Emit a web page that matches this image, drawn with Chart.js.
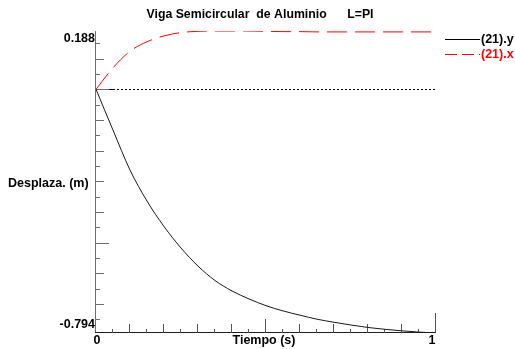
<!DOCTYPE html>
<html>
<head>
<meta charset="utf-8">
<script src="https://cdn.jsdelivr.net/npm/chart.js@4/dist/chart.umd.min.js"></script>
<style>
  html, body { margin: 0; padding: 0; background: #fff; }
  canvas { display: block; }
</style>
</head>
<body>
<canvas id="chartViga" width="515" height="349"></canvas>
<script>
// tiempo (s)
var tiempo = [0, 0.05, 0.1, 0.15, 0.2, 0.25, 0.3, 0.35, 0.4, 0.45, 0.5,
              0.55, 0.6, 0.65, 0.7, 0.75, 0.8, 0.85, 0.9, 0.95, 1];
// desplazamiento vertical del nodo 21 (m)
var desplazaY = [0, -0.133, -0.263, -0.364, -0.447, -0.517, -0.576, -0.623, -0.657, -0.683, -0.705,
                 -0.722, -0.736, -0.749, -0.759, -0.768, -0.776, -0.782, -0.787, -0.791, -0.794];
// desplazamiento horizontal del nodo 21 (m)
var desplazaX = [0, 0.070, 0.124, 0.155, 0.174, 0.185, 0.189, 0.190, 0.190, 0.190, 0.189,
                 0.188, 0.188, 0.187, 0.187, 0.187, 0.187, 0.187, 0.187, 0.187, 0.187];

var yLabels = ['0.188', '-0.794'];
var xLabels = ['0', '1'];
var titulo = 'Viga Semicircular  de Aluminio      L=PI';
var FUENTE = 'bold 12.5px "Liberation Sans", Arial, sans-serif';

function puntos(valores) {
    return tiempo.map(function(t, i) { return { x: t, y: valores[i] }; });
}

// ejes al estilo del programa original: marcas hacia dentro, textos en los extremos
var ejes = {
    id: 'ejes',
    beforeDatasetsDraw: function(chart) {
        var ctx = chart.ctx, xs = chart.scales.x, ys = chart.scales.y;
        var a = chart.chartArea;
        var x0 = xs.getPixelForValue(0), y0 = ys.getPixelForValue(0);
        ctx.save();

        // linea de cero punteada
        ctx.strokeStyle = '#000';
        ctx.lineWidth = 1;
        ctx.setLineDash([2, 2]);
        ctx.beginPath();
        ctx.moveTo(x0 + 17, Math.round(y0) + 0.5);
        ctx.lineTo(a.right, Math.round(y0) + 0.5);
        ctx.stroke();
        ctx.setLineDash([]);
        ctx.beginPath();
        ctx.moveTo(x0, Math.round(y0) + 0.5);
        ctx.lineTo(x0 + 17, Math.round(y0) + 0.5);
        ctx.stroke();

        // eje vertical
        ctx.strokeStyle = '#6e6e6e';
        ctx.beginPath();
        ctx.moveTo(a.left - 0.5, a.top);
        ctx.lineTo(a.left - 0.5, a.bottom);
        ctx.stroke();
        for (var k = 3; k >= -15; k--) {
            var v = k * 0.05;
            var py = Math.round(ys.getPixelForValue(v)) + 0.5;
            var len = (k % 10 === 0) ? 13 : (k % 2 === 0 ? 8 : 4);
            ctx.beginPath();
            ctx.moveTo(a.left, py);
            ctx.lineTo(a.left + len, py);
            ctx.stroke();
        }

        // eje horizontal
        ctx.strokeStyle = '#222';
        ctx.beginPath();
        ctx.moveTo(a.left - 1, a.bottom - 0.5);
        ctx.lineTo(a.right, a.bottom - 0.5);
        ctx.stroke();
        ctx.strokeStyle = '#555';
        for (var j = 1; j <= 20; j++) {
            var px = Math.round(xs.getPixelForValue(j * 0.05)) - 0.5;
            var h = (j === 20) ? 20 : (j === 10 ? 14 : (j % 2 === 0 ? 9 : 4));
            ctx.beginPath();
            ctx.moveTo(px, a.bottom);
            ctx.lineTo(px, a.bottom - h);
            ctx.stroke();
        }

        // textos de los ejes
        ctx.fillStyle = '#000';
        ctx.font = FUENTE;
        ctx.textBaseline = 'middle';
        ctx.textAlign = 'right';
        ctx.fillText(yLabels[0], a.left - 1, ys.getPixelForValue(ys.max) + 8);
        ctx.fillText(yLabels[1], a.left - 1, ys.getPixelForValue(ys.min) - 8);
        ctx.textAlign = 'left';
        ctx.fillText('Desplaza. (m)', 8, 184, 81);
        ctx.textAlign = 'center';
        ctx.fillText(xLabels[0], xs.getPixelForValue(0) + 1, 341);
        ctx.fillText(xLabels[1], xs.getPixelForValue(1) - 4, 341);
        ctx.fillText('Tiempo (s)', 264, 341, 63);
        ctx.fillText(titulo, 260, 15, 227);

        // leyenda
        ctx.textAlign = 'left';
        ctx.strokeStyle = '#000';
        ctx.beginPath();
        ctx.moveTo(445, 39.5);
        ctx.lineTo(480, 39.5);
        ctx.stroke();
        ctx.fillText('(21).y', 481, 40);
        ctx.strokeStyle = '#ff0000';
        ctx.setLineDash([12, 5]);
        ctx.beginPath();
        ctx.moveTo(445, 54.5);
        ctx.lineTo(480, 54.5);
        ctx.stroke();
        ctx.setLineDash([]);
        ctx.fillStyle = '#ff0000';
        ctx.fillText('(21).x', 481, 55);
        ctx.restore();
    }
};

var ctx = document.getElementById('chartViga');
var grafico = new Chart(ctx, {
    type: 'line',
    data: {
        datasets: [{
            label: '(21).y',
            data: puntos(desplazaY),
            borderColor: '#1a1a1a',
            borderWidth: 1,
            pointRadius: 0,
            cubicInterpolationMode: 'monotone',
            fill: false
        }, {
            label: '(21).x',
            data: puntos(desplazaX),
            borderColor: '#ff0000',
            borderWidth: 1,
            borderDash: [20, 8],
            pointRadius: 0,
            cubicInterpolationMode: 'monotone',
            fill: false
        }]
    },
    options: {
        responsive: false,
        animation: false,
        devicePixelRatio: 1,
        layout: { padding: { left: 96, right: 79, top: 31, bottom: 16 } },
        plugins: { legend: { display: false }, title: { display: false }, tooltip: { enabled: false } },
        scales: {
            x: { type: 'linear', min: 0, max: 1, display: false },
            y: { type: 'linear', min: -0.794, max: 0.19, display: false }
        }
    },
    plugins: [ejes]
});
</script>
</body>
</html>
